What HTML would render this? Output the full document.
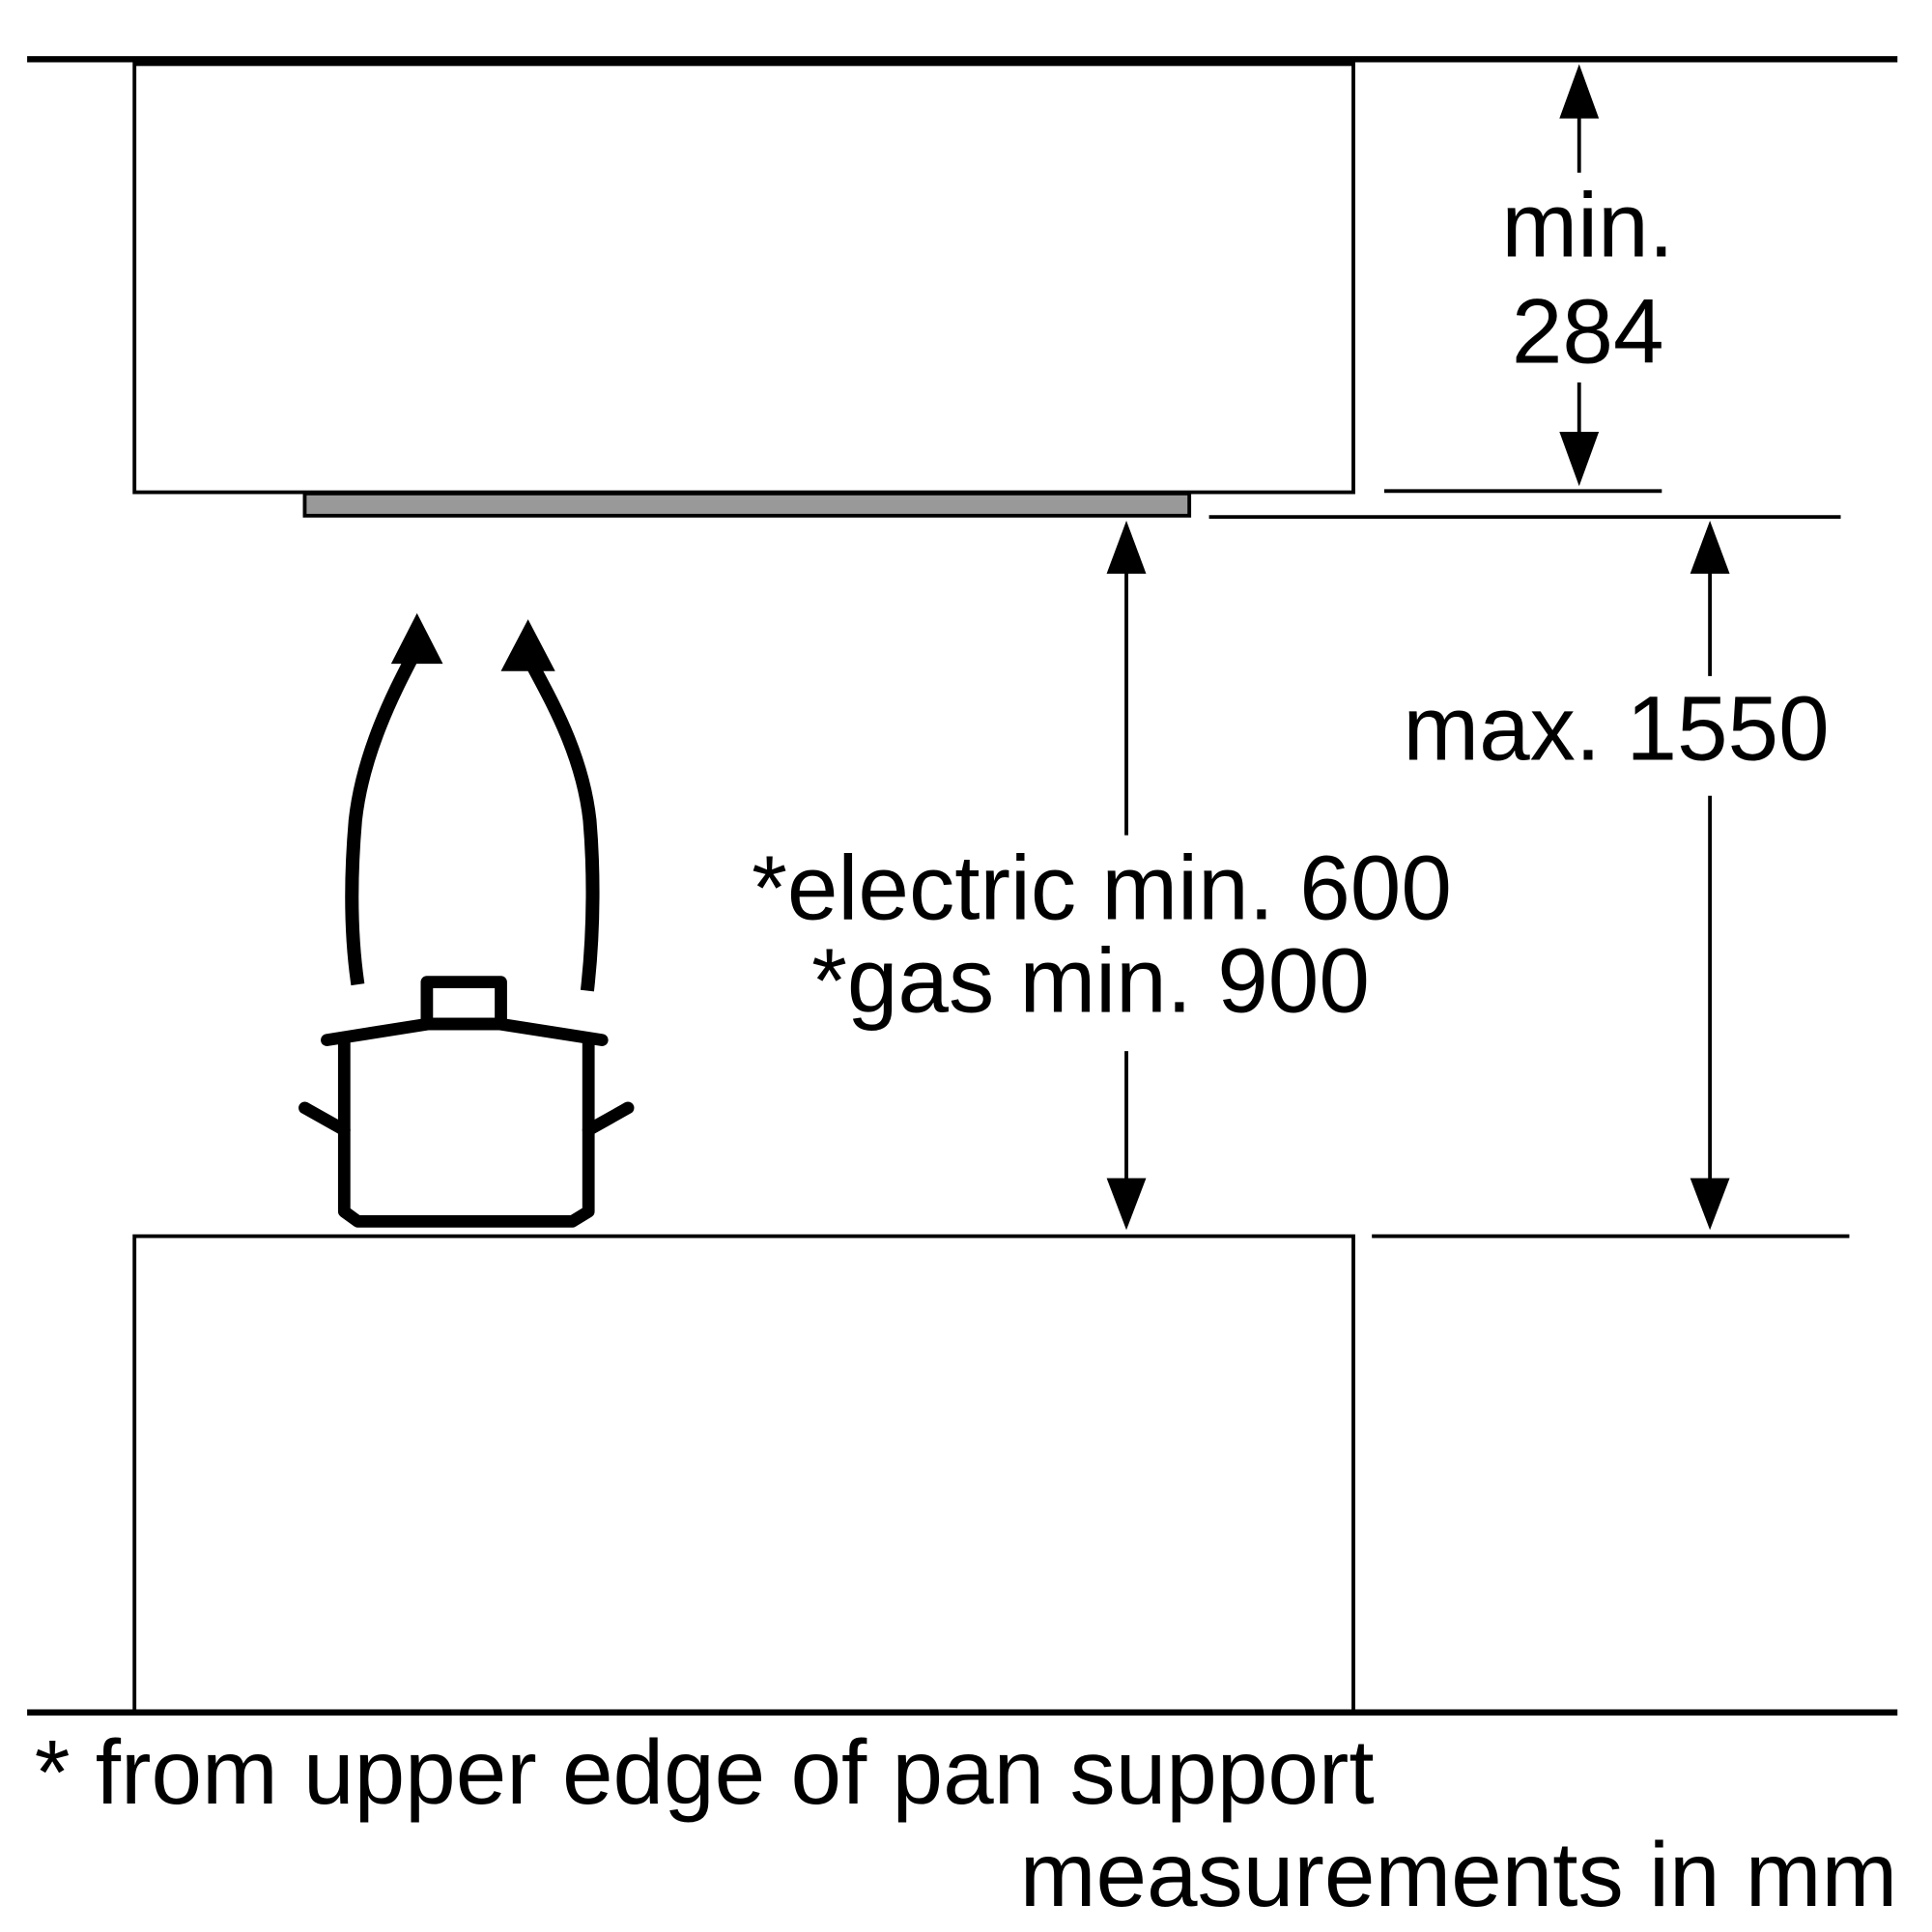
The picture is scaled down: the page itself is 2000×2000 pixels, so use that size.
<!DOCTYPE html>
<html><head><style>html,body{margin:0;padding:0;background:#fff}svg{display:block}</style></head>
<body>
<svg width="2000" height="2000" viewBox="0 0 1566 1566" xmlns="http://www.w3.org/2000/svg" font-family="Liberation Sans, Arial, sans-serif">
<g stroke="#000" fill="none">
<line x1="22" y1="48" x2="1538" y2="48" stroke-width="5"/>
<line x1="22" y1="1388" x2="1538" y2="1388" stroke-width="5"/>
<rect x="109" y="52" width="988" height="347" stroke-width="3"/>
<rect x="247" y="400" width="717" height="18" fill="#999" stroke-width="3"/>
<line x1="1122" y1="398" x2="1347" y2="398" stroke-width="3"/>
<line x1="980" y1="419" x2="1492" y2="419" stroke-width="3"/>
<rect x="109" y="1002" width="988" height="386" stroke-width="3"/>
<line x1="1112" y1="1002" x2="1499" y2="1002" stroke-width="3"/>
<line x1="1280" y1="90" x2="1280" y2="140" stroke-width="3"/>
<line x1="1280" y1="310" x2="1280" y2="355" stroke-width="3"/>
<line x1="1386" y1="460" x2="1386" y2="548" stroke-width="3"/>
<line x1="1386" y1="645" x2="1386" y2="960" stroke-width="3"/>
<line x1="913" y1="460" x2="913" y2="677" stroke-width="3"/>
<line x1="913" y1="852" x2="913" y2="960" stroke-width="3"/>
<g stroke-width="10" stroke-linejoin="round" stroke-linecap="round">
<polyline points="265,843 347,830 405,830 488,843"/>
<rect x="346" y="796" width="60" height="34"/>
<path d="M279,843 V982 L290,990 H464 L477,982 V843"/>
<line x1="247" y1="898" x2="279" y2="916"/>
<line x1="477" y1="916" x2="509" y2="898"/>
</g>
<path d="M290,798 C283,750 285,700 288,665 C294,610 320,560 334,533" stroke-width="11"/>
<path d="M476,803 C482,750 481,700 478,665 C472,610 445,565 431,538" stroke-width="11"/>
</g>
<g fill="#000">
<polygon points="1280,52 1264,96 1296,96"/>
<polygon points="1280,394 1264,350 1296,350"/>
<polygon points="1386,422 1370,465 1402,465"/>
<polygon points="1386,997 1370,955 1402,955"/>
<polygon points="913,422 897,465 929,465"/>
<polygon points="913,997 897,955 929,955"/>
<polygon points="338,497 317,538 359,538"/>
<polygon points="428,502 406,544 450,544"/>
</g>
<g font-size="74" fill="#000">
<text x="1287" y="208" text-anchor="middle">min.</text>
<text x="1287" y="294" text-anchor="middle">284</text>
<text x="1310" y="616" text-anchor="middle">max. 1550</text>
<text x="893" y="745" text-anchor="middle">*electric min. 600</text>
<text x="884" y="820" text-anchor="middle">*gas min. 900</text>
<text x="28" y="1462">* from upper edge of pan support</text>
<text x="1538" y="1545" text-anchor="end">measurements in mm</text>
</g>
</svg>
</body></html>
